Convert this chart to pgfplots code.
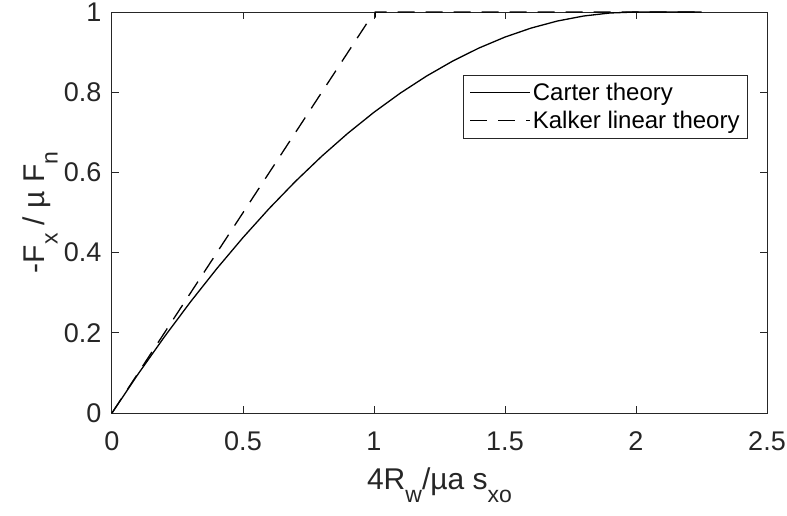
\documentclass[border=0pt]{standalone}
\usepackage{pgfplots}
\pgfplotsset{compat=1.18}
\usepackage{fontspec}
\setmainfont{Liberation Sans}
\definecolor{axgray}{HTML}{262626}
\newcommand\sub[1]{\raisebox{-0.45em}{\fontsize{23}{27}\selectfont #1}}
\begin{document}
\begin{tikzpicture}
\useasboundingbox (-112pt,-102pt) rectangle (675pt,413pt);
\begin{axis}[
  at={(0,0)}, anchor=south west,
  scale only axis, width=655pt, height=401pt,
  xmin=0, xmax=2.5, ymin=0, ymax=1,
  clip=false,
  xtick={0,0.5,1,1.5,2,2.5}, ytick={0,0.2,0.4,0.6,0.8,1},
  axis line style={axgray, line width=1pt},
  tick style={axgray, line width=1pt},
  major tick length=7pt,
  /pgf/number format/assume math mode=true,
  tick label style={font=\fontsize{27}{32}\selectfont, text=axgray},
  xticklabel style={yshift=-15pt},
  yticklabel style={xshift=-7pt},
  label style={font=\fontsize{30}{35}\selectfont, text=axgray},
  xlabel={4R\sub{w}/µa s\sub{xo}},
  ylabel={-F\sub{x} / µ F\sub{n}},
  xlabel style={at={(axis description cs:0.5,-0.1796)}, anchor=center},
  ylabel style={at={(axis description cs:-0.1099,0.5)}, anchor=center},
  legend style={at={(0.971,0.843)}, anchor=north east, draw=axgray,
    line width=0.8pt, font=\fontsize{24}{28}\selectfont,
    inner xsep=6pt, inner ysep=6pt, row sep=5pt},
  legend cell align=left,
  legend image code/.code={\draw[#1] (6pt,0pt) -- (66pt,0pt);},
]
\addplot[black, line width=1.3pt] coordinates {
 (0,0) (0.1,0.0975) (0.2,0.19) (0.3,0.2775) (0.4,0.36) (0.5,0.4375)
 (0.6,0.51) (0.7,0.5775) (0.8,0.64) (0.9,0.6975) (1.0,0.75)
 (1.1,0.7975) (1.2,0.84) (1.3,0.8775) (1.4,0.91) (1.5,0.9375)
 (1.6,0.96) (1.7,0.9775) (1.8,0.99) (1.9,0.9975) (2.0,1) (2.25,1)
};
\addlegendentry{Carter theory}
\addplot[black, line width=1.3pt, dash pattern=on 17pt off 11pt] coordinates {
 (0,0) (0.975,0.974) (1.005,0.985) (1.005,1) (2.25,1)
};
\addlegendentry{Kalker linear theory}
\end{axis}
\end{tikzpicture}
\end{document}
